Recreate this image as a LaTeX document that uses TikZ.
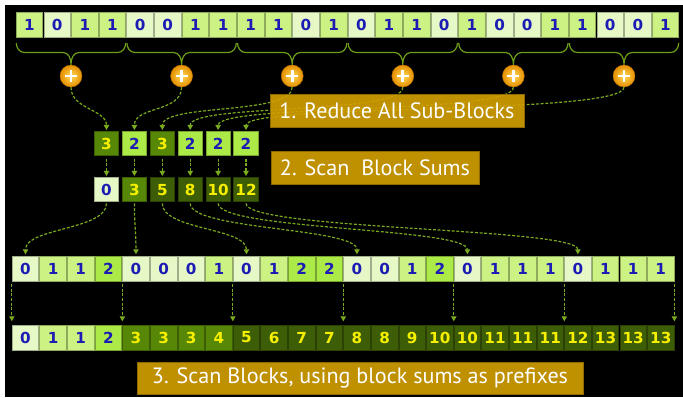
\documentclass[tikz,border=0pt]{standalone}
\usepackage{fontspec}
\setmainfont{DejaVu Sans}
\newfontfamily\labelfont{PT Sans}
\usetikzlibrary{arrows.meta,shadings}

\definecolor{cPale}{HTML}{E6F8C6}
\definecolor{cLight}{HTML}{CCF283}
\definecolor{cBright}{HTML}{ACEA48}
\definecolor{cMed}{HTML}{578706}
\definecolor{cDark}{HTML}{3D5E06}
\definecolor{cBlue}{HTML}{1C1CB4}
\definecolor{cYel}{HTML}{F6F000}
\definecolor{cLine}{HTML}{7AAA1E}
\definecolor{cBrace}{HTML}{6E9E18}
\definecolor{cGold}{HTML}{D4A000}
\definecolor{cGoldEdge}{HTML}{8E6A00}
\definecolor{cPlusIn}{HTML}{FFDC5A}
\definecolor{cPlusOut}{HTML}{E68E00}

\begin{document}
\begin{tikzpicture}[x=0.75pt,y=-0.75pt,
  cellbase/.style={rectangle, inner sep=0pt, minimum width=19.95pt, minimum height=18.75pt,
    line width=0.5pt, font=\fontsize{11.4}{13}\selectfont\bfseries},
  sP/.style={cellbase, fill=cPale, draw=cPale!70!black, text=cBlue},
  sL/.style={cellbase, fill=cLight, draw=cLight!70!black, text=cBlue},
  sB/.style={cellbase, fill=cBright, draw=cBright!70!black, text=cBlue},
  sM/.style={cellbase, fill=cMed, draw=cMed!70!black, text=cYel},
  sD/.style={cellbase, fill=cDark, draw=cDark!70!black, text=cYel},
  top0/.style={sP}, top1/.style={sL},
  mid0/.style={sP}, mid1/.style={sL}, mid2/.style={sB},
  smallcell/.style={minimum width=18.3pt, minimum height=18pt},
  conn/.style={draw=cLine, line width=0.9pt, dash pattern=on 2.2pt off 1.3pt,
    -{Triangle[length=3.8pt,width=4pt]}, shorten >=1pt},
  bracestyle/.style={draw=cBrace, line width=0.9pt},
  plusc/.style={circle, minimum size=16.5pt, inner sep=0pt, shading=radial,
    inner color=cPlusIn, outer color=cPlusOut, draw=cPlusOut!80!black, line width=0.3pt},
  labelbox/.style={rectangle, fill=cGold, fill opacity=0.9, text opacity=1, draw=cGoldEdge,
    line width=0.6pt, text=white, font=\labelfont\fontsize{16.6}{19}\selectfont, inner sep=0pt}
]
\useasboundingbox (0,0) rectangle (683,397);
\fill[white] (0,0) rectangle (683,397);
\fill[black] (4.5,4.5) rectangle (683,397);

% top row
\foreach \v [count=\i] in {1,0,1,1,0,0,1,1,1,1,0,1,0,1,1,0,1,0,0,1,1,0,0,1}
  \node[top\v] (t\i) at ({15.7+27.65*(\i-0.5)},24.5) {\v};

% braces and plus circles
\foreach \g in {1,...,6} {
  \pgfmathsetmacro\xl{15.7+110.6*(\g-1)+0.6}
  \pgfmathsetmacro\xr{15.7+110.6*\g-0.6}
  \pgfmathsetmacro\xc{(\xl+\xr)/2}
  \draw[bracestyle] (\xl,43) to[out=-90,in=180] (\xl+8,52.5) -- (\xc-8,52.5)
     to[out=0,in=90] (\xc,64) to[out=90,in=180] (\xc+8,52.5) -- (\xr-8,52.5)
     to[out=0,in=-90] (\xr,43);
  \node[plusc] (p\g) at (\xc,76) {};
  \draw[white, line width=2.2pt] (p\g.center) ++(-6,0) -- ++(12,0)
        (p\g.center) ++(0,-6) -- ++(0,12);
}

% block sums and scanned sums
\foreach \v/\s [count=\k] in {3/sM,2/sB,3/sM,2/sB,2/sB,2/sB}
  \node[\s, smallcell] (s\k) at ({106.5+27.9*(\k-1)},143.7) {\v};
\foreach \v/\s [count=\k] in {0/sP,3/sM,5/sD,8/sD,10/sD,12/sD}
  \node[\s, smallcell] (c\k) at ({106.5+27.9*(\k-1)},189.7) {\v};

% arrows from plus circles to block sums
\foreach \g in {1,...,6}
  \draw[conn, max distance=21pt] (p\g.south) to[out=-90,in=90] (s\g.north);

% label boxes 1 and 2
\node[labelbox, minimum width=190.5pt, minimum height=24.75pt] (L1) at (397,110.5) {1. Reduce All Sub-Blocks};
\node[labelbox, minimum width=156pt, minimum height=24.75pt] (L2) at (375,167.5) {2. Scan~ Block Sums};

% row 3 and bottom row
\foreach \v [count=\i] in {0,1,1,2,0,0,0,1,0,1,2,2,0,0,1,2,0,1,1,1,0,1,1,1}
  \node[mid\v] (r\i) at ({11.7+27.62*(\i-0.5)},268.5) {\v};
\foreach \v/\s [count=\i] in {0/sP,1/sL,1/sL,2/sB,3/sM,3/sM,3/sM,4/sM,5/sD,6/sD,7/sD,7/sD,
    8/sD,8/sD,9/sD,10/sD,10/sD,11/sD,11/sD,11/sD,12/sD,13/sD,13/sD,13/sD}
  \node[\s] (b\i) at ({11.7+27.62*(\i-0.5)},337.5) {\v};

% block sums -> scan
\foreach \k in {1,...,6}
  \draw[conn, shorten <=2pt] (s\k.south) -- (c\k.north);

% scanned sums -> start of each block
\foreach \k/\i in {1/1,2/5,3/9,4/13,5/17,6/21}
  \draw[conn, max distance=21pt, shorten <=1pt] (c\k.south) to[out=-90,in=90] (r\i.north);

% row 3 -> bottom row at block boundaries
\foreach \i in {1,5,9,13,17,21}
  \draw[conn, shorten <=2pt, shorten >=2.5pt] (r\i.south west) -- (b\i.north west);
\draw[conn, shorten <=2pt, shorten >=2.5pt] (r24.south east) -- (b24.north east);

\node[labelbox, minimum width=334.5pt, minimum height=24pt] (L3) at (360,378) {3. Scan Blocks, using block sums as prefixes};
\end{tikzpicture}
\end{document}
